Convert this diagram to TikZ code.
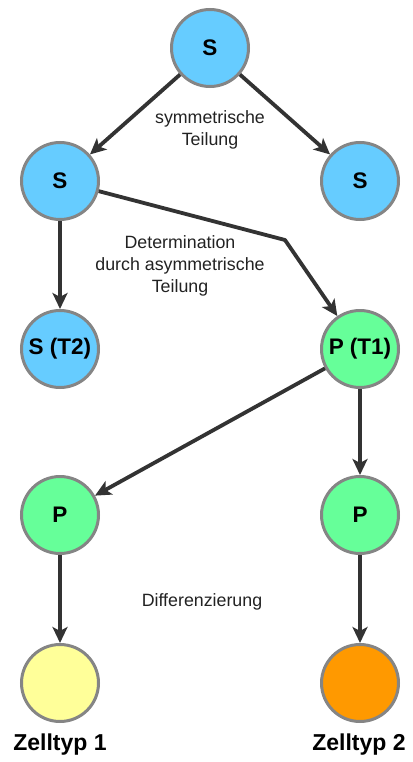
\documentclass[tikz,border=0pt]{standalone}
\usepackage{fontspec}
\setmainfont{Liberation Sans}
\usetikzlibrary{arrows.meta}
\definecolor{cblue}{HTML}{66CCFF}
\definecolor{cgreen}{HTML}{66FF99}
\definecolor{cyellow}{HTML}{FFFF99}
\definecolor{corange}{HTML}{FF9900}
\definecolor{cborder}{HTML}{858585}
\definecolor{cedge}{HTML}{333333}
\definecolor{ctext}{HTML}{222222}
\tikzset{
  cell/.style={circle, draw=cborder, line width=3pt, minimum size=77pt, inner sep=0pt,
    font=\fontsize{22.5}{24}\selectfont\bfseries, text=black},
  edge/.style={draw=cedge, line width=3.8pt, line join=round,
    -{Stealth[length=16pt,width=15pt,inset=4pt]}},
  lbl/.style={align=center, text=ctext, font=\fontsize{17.8}{22}\selectfont},
  ctype/.style={font=\fontsize{23}{26}\selectfont\bfseries, text=black}
}
\begin{document}
\begin{tikzpicture}[x=1pt,y=-1pt]
\useasboundingbox (0,0) rectangle (412,762);
\node[cell, fill=cblue] (top) at (210,48) {S};
\node[cell, fill=cblue] (sl) at (60,181) {S};
\node[cell, fill=cblue] (sr) at (360,181) {S};
\node[cell, fill=cblue] (st2) at (60,349) {S (T2)};
\node[cell, fill=cgreen] (pt1) at (360,349) {P (T1)};
\node[cell, fill=cgreen] (pl) at (60,515) {P};
\node[cell, fill=cgreen] (pr) at (360,515) {P};
\node[cell, fill=cyellow] (z1) at (60,683) {};
\node[cell, fill=corange] (z2) at (360,683) {};
\node[ctype] (t1) at (60,745) {Zelltyp 1};
\node[ctype] (t2) at (359,745) {Zelltyp 2};
\node[lbl] (l1) at (210,130) {symmetrische\\Teilung};
\node[lbl] (l2) at (180,266) {Determination\\durch asymmetrische\\Teilung};
\node[lbl] (l3) at (202,602) {Differenzierung};
\coordinate (bend) at (285,240);
\draw[edge] (top) -- (sl);
\draw[edge] (top) -- (sr);
\draw[edge] (sl) -- (st2);
\draw[edge] (sl) -- (bend) -- (pt1);
\draw[edge] (pt1) -- (pl);
\draw[edge] (pt1) -- (pr);
\draw[edge] (pl) -- (z1);
\draw[edge] (pr) -- (z2);
\end{tikzpicture}
\end{document}
